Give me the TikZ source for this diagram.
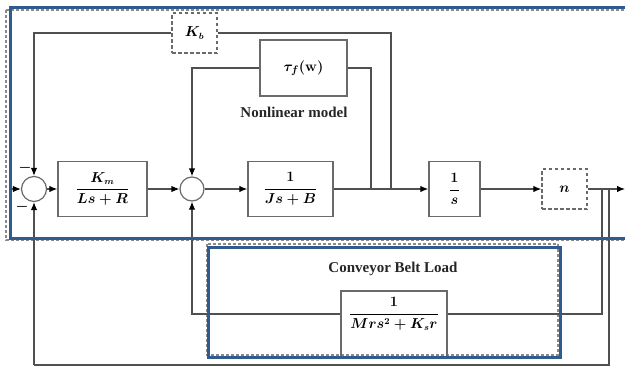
\documentclass[tikz,border=0pt]{standalone}
\usepackage{amsmath}
\usepackage{fontspec}
\setmainfont{Liberation Serif}
\usetikzlibrary{arrows.meta}
\definecolor{frameblue}{HTML}{2F5B8E}
\definecolor{wire}{HTML}{505050}
\definecolor{boxgray}{HTML}{6A6A6A}
\definecolor{dashgray}{HTML}{8A8A8A}
\begin{document}
\begin{tikzpicture}[x=1pt,y=-1pt,
  wirestyle/.style={draw=wire,line width=1.2pt},
  sig/.style={wirestyle,-{Latex[length=8pt,width=6.5pt,color=black]}},
  blockbox/.style={draw=boxgray,line width=1.3pt,inner sep=0pt,
    font=\fontsize{13.5}{16}\selectfont\boldmath},
  dashbox/.style={blockbox,dashed,dash pattern=on 3.5pt off 2.5pt},
  sumnode/.style={circle,draw=boxgray,line width=1.2pt,minimum size=25pt,inner sep=0pt},
  tflabel/.style={font=\fontsize{13.5}{16}\selectfont\boldmath,inner sep=0pt},
  caption/.style={font=\fontsize{15}{18}\selectfont\bfseries,text=black!85},
  signmark/.style={font=\fontsize{14}{14}\selectfont\boldmath,inner sep=0pt},
  bluebox/.style={draw=frameblue,line width=3pt},
  grayframe/.style={draw=dashgray,line width=1.3pt,dash pattern=on 3pt off 2pt}
]
\useasboundingbox (0,0) rectangle (625,367);
\clip (0,0) rectangle (625,367);

% group frames
\draw[grayframe] (6,10) rectangle (650,240);
\draw[grayframe] (207,244) rectangle (558,355);

% blocks of the forward path
\node[sumnode] (sum1) at (34,189) {};
\node[blockbox,minimum width=89pt,minimum height=55pt] (b1) at (102.5,189)
  {$\dfrac{K_m}{Ls+R}$};
\node[sumnode,minimum size=24pt] (sum2) at (192,189) {};
\node[blockbox,minimum width=85pt,minimum height=55pt] (b2) at (290.5,189)
  {$\dfrac{1}{Js+B}$};
\node[blockbox,minimum width=51pt,minimum height=55pt] (b3) at (454.5,189)
  {$\dfrac{1}{s}$};
\node[dashbox,minimum width=45pt,minimum height=40pt] (nbox) at (564.5,189) {$n$};

% feedback blocks
\node[dashbox,minimum width=45pt,minimum height=40pt] (kb) at (194.5,33) {$K_b$};
\node[blockbox,minimum width=87pt,minimum height=56pt,
  font=\fontsize{15}{18}\selectfont\boldmath] (tau) at (303.5,68)
  {$\tau_f(\mathbf{w})$};
\node[caption] (nlcap) at (294,112) {Nonlinear model};
\node[caption] (cbcap) at (393,269) {Conveyor Belt Load};
\node[blockbox,minimum width=106pt,minimum height=66pt] (conv) at (394,324) {};
\node[tflabel] (convtf) at (394,314) {$\dfrac{1}{Mrs^2+K_s r}$};

% signs at the first summing junction
\node[signmark] (m1) at (25,168) {$-$};
\node[signmark] (m2) at (22,207) {$-$};

% branch points
\coordinate (in) at (9,189);
\coordinate (jt) at (371,189);
\coordinate (jk) at (391,189);
\coordinate (jo1) at (602,189);
\coordinate (jo2) at (609,189);
\coordinate (out) at (625,189);
\coordinate (lowrail) at (0,365);

% forward path
\draw[sig] (in) -- (sum1.west);
\draw[sig] (sum1.east) -- (b1.west);
\draw[sig] (b1.east) -- (sum2.west);
\draw[sig] (sum2.east) -- (b2.west);
\draw[sig] (b2.east) -- (b3.west);
\draw[sig] (b3.east) -- (nbox.west);
\draw[sig] (nbox.east) -- (out);

% back-EMF loop
\draw[wirestyle] (jk) |- (kb.east);
\draw[sig] (kb.west) -| (sum1.north);

% friction loop
\draw[wirestyle] (jt) |- (tau.east);
\draw[sig] (tau.west) -| (sum2.north);

% load loop
\draw[wirestyle] (jo1) |- (conv.east |- convtf);
\draw[sig] (conv.west |- convtf) -| (sum2.south);

% speed feedback
\draw[wirestyle] (jo2) -- (jo2 |- lowrail) -- (sum1.south |- lowrail);
\draw[sig] (sum1.south |- lowrail) -- (sum1.south);

% highlight frames
\draw[bluebox] (10,7) rectangle (650,238);
\draw[bluebox] (208,247) rectangle (560,357);
\end{tikzpicture}
\end{document}
